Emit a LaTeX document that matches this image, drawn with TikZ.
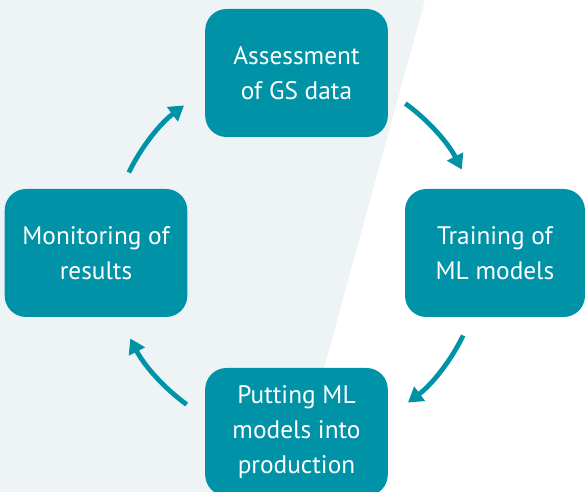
\documentclass[tikz,border=0pt]{standalone}
\usepackage{fontspec}
\setmainfont{PT Sans}
\usepackage{tikz}
\usetikzlibrary{arrows.meta}
\definecolor{tealbox}{HTML}{0092A7}
\definecolor{palebg}{HTML}{EEF4F6}

\begin{document}
\begin{tikzpicture}[x=0.75pt,y=0.75pt,
			stage node/.style={rectangle,rounded corners=16pt,fill=tealbox,
				text=white,align=center,minimum width=137pt,minimum height=96pt,
				font=\fontsize{19}{26.5}\selectfont}]
			\useasboundingbox (0,0) rectangle (585,492);
			\fill[palebg] (0,0) -- (0,492) -- (425,492) -- (290,0) -- cycle;
			
			\coordinate (c) at (296,238);
			\node[stage node] (A) at (296.5,419) {Assessment\\of GS data};
			\node[stage node,minimum width=135pt] (T) at (495,239) {Training of\\ML models};
			\node[stage node] (P) at (296.5,60) {Putting ML\\models into\\production};
			\node[stage node] (M) at (96,239) {Monitoring of\\results};
			
			\tikzstyle{cycle arrow}=[draw=tealbox,line width=3.6pt,
				-{Triangle[length=11pt,width=13pt]}]
			\coordinate (a1) at ([shift={(54:186)}]c);
			\coordinate (a2) at ([shift={(-26:186)}]c);
			\coordinate (a3) at ([shift={(-126:186)}]c);
			\coordinate (a4) at ([shift={(154:186)}]c);
			\draw[cycle arrow] (a1) arc[start angle=54,end angle=27,radius=186];
			\draw[cycle arrow] (a2) arc[start angle=-26,end angle=-53,radius=186];
			\draw[cycle arrow] (a3) arc[start angle=-126,end angle=-153,radius=186];
			\draw[cycle arrow] (a4) arc[start angle=154,end angle=127,radius=186];
		\end{tikzpicture}
\end{document}
